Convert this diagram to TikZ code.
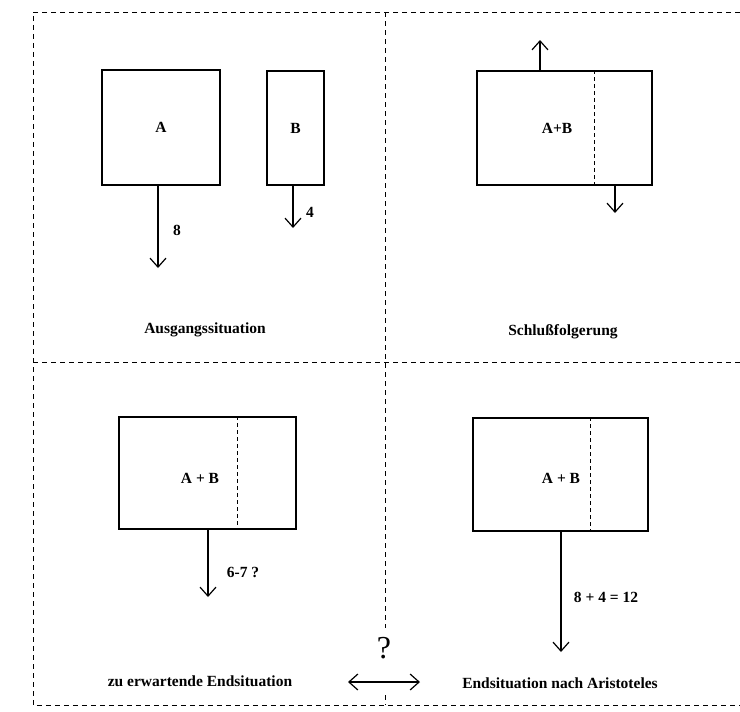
\documentclass[tikz,border=0pt]{standalone}
\usepackage{fontspec}
\setmainfont{Liberation Serif}
\usetikzlibrary{positioning, arrows.meta, calc}

\begin{document}
\begin{tikzpicture}[x=1pt, y=-1pt,
    every node/.style={font=\bfseries\fontsize{15.5}{18}\selectfont},
    box/.style={rectangle, draw, line width=1.2pt, inner sep=0pt},
    frame/.style={dash pattern=on 5pt off 4pt, line width=0.8pt},
    split/.style={dash pattern=on 4pt off 3pt, line width=1pt},
    barb/.tip={Straight Barb[length=9pt, width=16pt, line width=1.2pt]},
    arr/.style={-barb, line width=1.2pt}]

  \useasboundingbox (0,0) rectangle (740,712);

  % frame
  \draw[frame] (740,12) -- (33,12) -- (33,705) -- (740,705);
  \draw[frame] (33,362) -- (740,362);
  \draw[frame] (385,12) -- (385,628);
  \draw[frame] (385,695) -- (385,705);

  % Ausgangssituation
  \node[box, minimum width=118pt, minimum height=115pt] (A) at (161,127.5) {A};
  \node[box, minimum width=57pt, minimum height=114pt] (B) at (295.5,128) {B};
  \coordinate (a8) at (158,268);
  \coordinate (b4) at (293,228);
  \draw[arr] (A.south -| a8) -- (a8);
  \draw[arr] (B.south -| b4) -- (b4);
  \node (n8) at (177,230) {8};
  \node (n4) at (310,212) {4};
  \node (c1) at (205,330) {Ausgangssituation};

  % Schlussfolgerung
  \node[box, minimum width=175pt, minimum height=114pt] (S) at (564.5,128) {};
  \node (Slab) at (557,128) {A+B};
  \draw[split] ($(S.north west)!0.67!(S.north east)$) -- ($(S.south west)!0.67!(S.south east)$);
  \coordinate (sup) at (540,40);
  \coordinate (sdn) at (615,213);
  \draw[arr] (S.north -| sup) -- (sup);
  \draw[arr] (S.south -| sdn) -- (sdn);
  \node (c2) at (563,332) {Schlußfolgerung};

  % zu erwartende Endsituation
  \node[box, minimum width=177pt, minimum height=112pt] (E) at (207.5,473) {};
  \node (Elab) at (200,478) {A + B};
  \draw[split] ($(E.north west)!0.67!(E.north east)$) -- ($(E.south west)!0.67!(E.south east)$);
  \coordinate (e67) at (208,597);
  \draw[arr] (E.south -| e67) -- (e67);
  \node (n67) at (243,572) {6-7 ?};
  \node (c3) at (200,681) {zu erwartende Endsituation};

  % Endsituation nach Aristoteles
  \node[box, minimum width=175pt, minimum height=113pt] (R) at (560.5,474.5) {};
  \node (Rlab) at (561,478) {A + B};
  \draw[split] ($(R.north west)!0.67!(R.north east)$) -- ($(R.south west)!0.67!(R.south east)$);
  \coordinate (r12) at (561,652);
  \draw[arr] (R.south -| r12) -- (r12);
  \node (n12) at (606,597) {8 + 4 = 12};
  \node (c4) at (560,683) {Endsituation nach Aristoteles};

  % Vergleich
  \coordinate (qL) at (348,682);
  \coordinate (qR) at (420,682);
  \draw[barb-barb, line width=1.2pt] (qL) -- (qR);
  \node[font=\fontsize{32}{36}\selectfont] (q) at (384,648) {?};
\end{tikzpicture}
\end{document}
